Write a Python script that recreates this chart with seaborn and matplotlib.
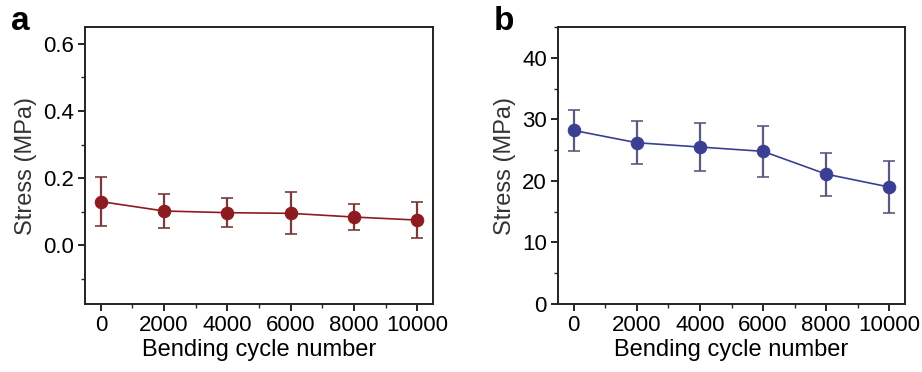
import numpy as np
import matplotlib.pyplot as plt
import seaborn as sns
from matplotlib.ticker import MultipleLocator

# data
cycles = [0, 2000, 4000, 6000, 8000, 10000]
stress_a = [0.130, 0.102, 0.097, 0.095, 0.084, 0.075]
err_a = [0.072, 0.050, 0.044, 0.063, 0.039, 0.053]
stress_b = [28.2, 26.2, 25.5, 24.8, 21.1, 19.0]
err_b = [3.3, 3.5, 3.9, 4.1, 3.5, 4.2]

sns.set_theme(style="ticks")
plt.rcParams['font.family'] = ['Liberation Sans', 'DejaVu Sans']

fig = plt.figure(figsize=(9.22, 3.72), dpi=100)
ax_a = fig.add_axes([0.0922, 0.1828, 0.3774, 0.7446])
ax_b = fig.add_axes([0.6052, 0.1828, 0.3764, 0.7446])

panels = [
    (ax_a, stress_a, err_a, "#8e1b1f", "#7a3a3a", (-0.175, 0.65), 0.2, 0.1, "a", 0.012),
    (ax_b, stress_b, err_b, "#3b3f94", "#5a5a80", (0, 45), 10, 5, "b", 0.535),
]

for ax, y, e, col, ecol, ylim, major, minor, letter, lx in panels:
    ax.errorbar(cycles, y, yerr=e, fmt='none', ecolor=ecol, elinewidth=1.6,
                capsize=4, capthick=1.2, zorder=2)
    sns.lineplot(x=cycles, y=y, ax=ax, color=col, linewidth=1.2, marker='o',
                 markersize=9, markeredgecolor=col, markerfacecolor=col, zorder=3)
    ax.set_xlim(-500, 10500)
    ax.set_ylim(*ylim)
    ax.xaxis.set_major_locator(MultipleLocator(2000))
    ax.xaxis.set_minor_locator(MultipleLocator(1000))
    ax.yaxis.set_major_locator(MultipleLocator(major))
    ax.yaxis.set_minor_locator(MultipleLocator(minor))
    if letter == "a":
        ax.yaxis.set_major_formatter(plt.FormatStrFormatter('%.1f'))
    ax.tick_params(which='major', direction='out', length=5, width=1.2,
                   labelsize=16, colors='black', pad=3, top=False, right=False)
    ax.tick_params(which='minor', direction='out', length=3, width=1.0,
                   top=False, right=False, left=True, bottom=True)
    for sp in ax.spines.values():
        sp.set_visible(True)
        sp.set_linewidth(1.4)
        sp.set_color('#222222')
    ax.set_xlabel("Bending cycle number", fontsize=17, labelpad=2, color='black')
    ax.set_ylabel("Stress (MPa)", fontsize=17, labelpad=4, color='#333333')
    fig.text(lx, 0.985, letter, fontsize=24, fontweight='bold', va='top', ha='left',
             color='black')

plt.savefig("out.png", dpi=100)
